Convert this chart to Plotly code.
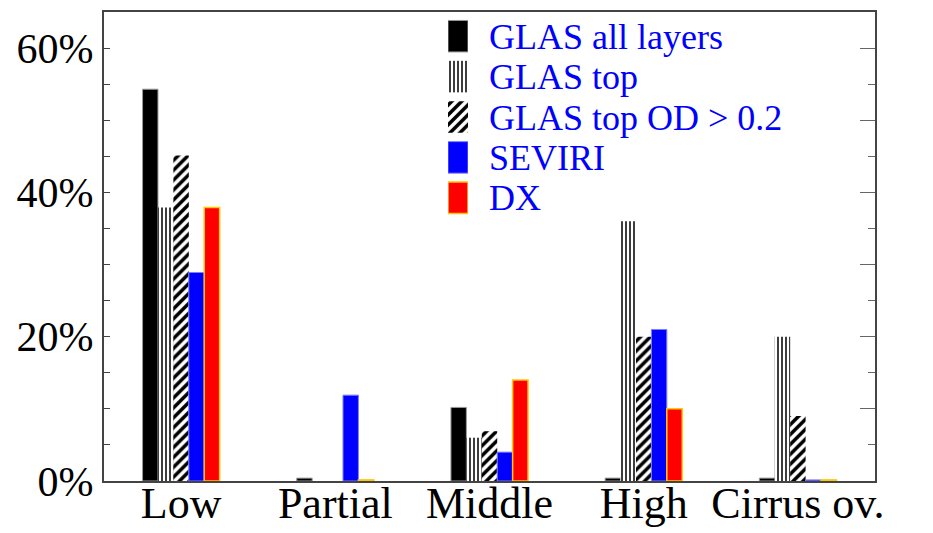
import plotly.graph_objects as go

# Cloud-type categories and the share of scenes in each (%)
categories = ["Low", "Partial", "Middle", "High", "Cirrus ov."]

glas_all = [54.3, 0.4, 10.2, 0.4, 0.4]
glas_top = [37.9, 0.0, 6.0, 36.0, 20.0]
glas_top_od = [45.1, 0.0, 6.9, 20.0, 9.0]
seviri = [28.9, 11.9, 4.0, 21.0, 0.15]
dx = [37.9, 0.15, 14.0, 10.0, 0.15]

series_names = ["GLAS all layers", "GLAS top", "GLAS top OD > 0.2", "SEVIRI", "DX"]

y_tick_vals = [0, 20, 40, 60]
y_tick_text = ["0%", "20%", "40%", "60%"]

SERIF = "Liberation Serif"
FRAME = "#444444"

# marker style per series: fill colour, pattern shape, outline colour, outline width
styles = [
    dict(color="black", shape="", line="#9a9a9a", lw=1.0),
    dict(color="white", shape="|", line="white", lw=0.0),
    dict(color="white", shape="/", line="white", lw=0.0),
    dict(color="#0000ff", shape="", line="#7f7fff", lw=1.0),
    dict(color="#ff0000", shape="", line="#ffc800", lw=1.5),
]


def marker_for(st):
    m = dict(color=st["color"], line=dict(color=st["line"], width=st["lw"]))
    if st["shape"] == "|":
        m["pattern"] = dict(shape="|", fgcolor="black", bgcolor="white",
                            size=4, solidity=0.38, fillmode="replace")
    elif st["shape"] == "/":
        m["pattern"] = dict(shape="/", fgcolor="black", bgcolor="white",
                            size=7, solidity=0.5, fillmode="replace")
    return m


fig = go.Figure()

for name, vals, st in zip(series_names,
                          [glas_all, glas_top, glas_top_od, seviri, dx],
                          styles):
    fig.add_trace(go.Bar(x=categories, y=vals, name=name,
                         marker=marker_for(st), showlegend=False,
                         xaxis="x", yaxis="y"))

# Key: one short horizontal bar per series on a small side axis,
# labelled by that axis' category tick labels
for name, st in zip(series_names, styles):
    fig.add_trace(go.Bar(
        y=[name], x=[1], orientation="h", width=0.78, offsetgroup="key",
        marker=marker_for(st), showlegend=False,
        xaxis="x2", yaxis="y2", hoverinfo="skip"))

W, H = 933, 533
ML, MR, MT, MB = 104, 58, 12, 52
PW, PH = W - ML - MR, H - MT - MB


def xfrac(px):
    return (px - ML) / PW


def yfrac(py):
    return 1 - (py - MT) / PH


fig.update_layout(
    width=W, height=H,
    margin=dict(l=ML, r=MR, t=MT, b=MB, autoexpand=False),
    paper_bgcolor="white", plot_bgcolor="white",
    barmode="group", bargap=0.5, bargroupgap=0.0,
    font=dict(family=SERIF, color="black"),
    xaxis=dict(
        domain=[0, 1], showgrid=False, zeroline=False, automargin=False,
        showline=True, linecolor=FRAME, linewidth=2, mirror=True,
        ticks="", ticklabelstandoff=-18,
        tickfont=dict(family=SERIF, size=44, color="black"),
    ),
    yaxis=dict(
        range=[0, 65], showgrid=False, zeroline=False, automargin=False,
        showline=True, linecolor=FRAME, linewidth=2,
        tickvals=y_tick_vals, ticktext=y_tick_text,
        ticks="inside", ticklen=6, tickwidth=1.2, tickcolor=FRAME,
        minor=dict(dtick=5, ticks="inside", ticklen=6, tickwidth=1.2,
                   tickcolor=FRAME, showgrid=False),
        ticklabelstandoff=0,
        tickfont=dict(family=SERIF, size=42, color="black"),
    ),
    yaxis3=dict(
        range=[0, 65], overlaying="y", anchor="x", side="right",
        showgrid=False, zeroline=False, automargin=False,
        showline=True, linecolor=FRAME, linewidth=2,
        showticklabels=False, dtick=10, tick0=0,
        ticks="inside", ticklen=15, tickwidth=1.2, tickcolor="#666666",
        minor=dict(dtick=5, ticks="inside", ticklen=7, tickwidth=1.2,
                   tickcolor="#666666", showgrid=False),
    ),
    xaxis2=dict(
        domain=[xfrac(448), xfrac(468)], range=[0, 1], anchor="y2",
        visible=False, fixedrange=True,
    ),
    yaxis2=dict(
        domain=[yfrac(218), yfrac(16)], anchor="x2", side="right",
        type="category", categoryorder="array", categoryarray=series_names,
        tickmode="array", tickvals=series_names, automargin=False,
        range=[4.5, -0.5], showgrid=False, zeroline=False, showline=False,
        ticks="", ticklabelstandoff=20,
        tickfont=dict(family=SERIF, size=36, color="#0000ff"),
    ),
)

# an invisible point keeps the right-hand tick axis drawn
fig.add_trace(go.Scatter(x=[categories[0]], y=[0], yaxis="y3", xaxis="x",
                         mode="markers", marker=dict(opacity=0),
                         showlegend=False, hoverinfo="skip"))

fig.write_html("out.html")
